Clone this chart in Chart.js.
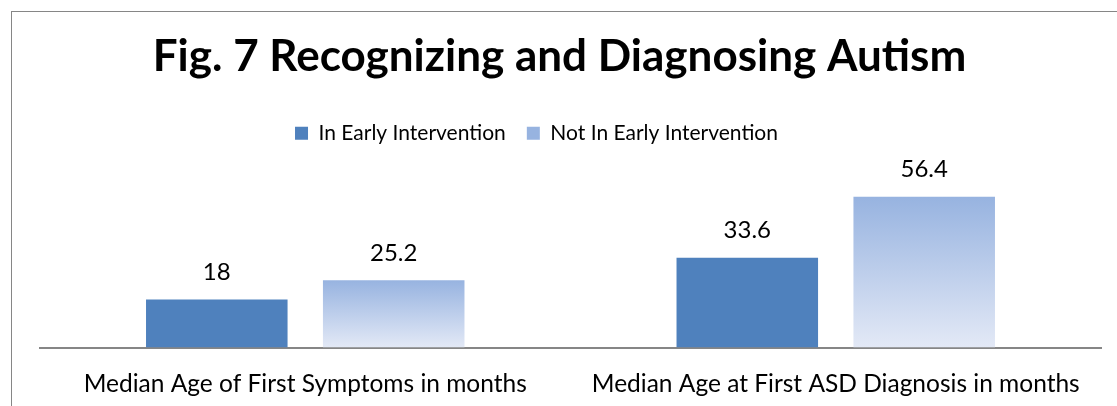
<!DOCTYPE html>
<html>
<head>
<meta charset="utf-8">
<script src="https://cdn.jsdelivr.net/npm/chart.js@4"></script>
<style>
  html, body { margin: 0; padding: 0; background: #fff; overflow: hidden; }
  #wrap { position: relative; width: 1117px; height: 406px; }
  #frame { position: absolute; left: 11px; top: 11px; right: 0; bottom: 0; border-left: 1px solid #868686; border-top: 1px solid #868686; }
  #grafico { position: absolute; left: 0; top: 0; display: block; }
</style>
</head>
<body>
<div id="wrap">
  <div id="frame"></div>
  <canvas id="grafico" width="1117" height="406"></canvas>
</div>
<script>
const categorie = ['Median Age of First Symptoms in months', 'Median Age at First ASD Diagnosis in months'];
const nomiSerie = ['In Early Intervention', 'Not In Early Intervention'];
const inEarly = [18, 33.6];
const notInEarly = [25.2, 56.4];

const fontName = 'Lato, "Open Sans", sans-serif';

// gradient for each light bar, from its top to the axis
function gradienteChiaro(context) {
  const chart = context.chart;
  if (context.type !== 'data' || !chart.chartArea) return '#BCCDEB';
  const y = chart.scales.y;
  const top = y.getPixelForValue(context.raw);
  const base = y.getPixelForValue(0);
  const g = chart.ctx.createLinearGradient(0, top, 0, base);
  g.addColorStop(0, '#97B3E0');
  g.addColorStop(1, '#E3E9F6');
  return g;
}

// values written above the bars
const etichette = {
  id: 'etichette',
  afterDatasetsDraw(chart) {
    const ctx = chart.ctx;
    ctx.save();
    ctx.font = '24px ' + fontName;
    ctx.fillStyle = '#000';
    ctx.textAlign = 'center';
    ctx.textBaseline = 'middle';
    chart.data.datasets.forEach((ds, i) => {
      chart.getDatasetMeta(i).data.forEach((bar, j) => {
        ctx.fillText(String(ds.data[j]), bar.x, bar.y - 27);
      });
    });
    ctx.restore();
  }
};

// title and legend sit a little left of the plot centre in the original
const spostaTesta = {
  id: 'spostaTesta',
  afterLayout(chart) {
    chart.titleBlock.left -= 11;
    chart.titleBlock.right -= 11;
    chart.legend.left -= 34;
    chart.legend.right -= 34;
  }
};

const ctx = document.getElementById('grafico').getContext('2d');
const grafico = new Chart(ctx, {
  type: 'bar',
  data: {
    labels: categorie,
    datasets: [{
      label: nomiSerie[0],
      data: inEarly,
      backgroundColor: '#4F81BD'
    }, {
      label: nomiSerie[1],
      data: notInEarly,
      backgroundColor: gradienteChiaro
    }]
  },
  options: {
    responsive: false,
    animation: false,
    categoryPercentage: 0.667,
    barPercentage: 0.80,
    layout: {
      padding: { left: 40, right: 16, top: 0, bottom: -15 }
    },
    plugins: {
      title: {
        display: true,
        text: 'Fig. 7 Recognizing and Diagnosing Autism',
        color: '#000',
        font: { family: fontName, size: 44, weight: 'bold' },
        padding: { top: 30, bottom: 19 }
      },
      legend: {
        display: true,
        labels: {
          color: '#000',
          font: { family: fontName, size: 21 },
          boxWidth: 13,
          boxHeight: 13,
          padding: 21
        }
      },
      tooltip: { enabled: false }
    },
    scales: {
      x: {
        grid: { display: false, drawTicks: false },
        border: { display: true, color: '#868686', width: 2 },
        ticks: {
          color: '#000',
          font: { family: fontName, size: 24.5 },
          padding: 22,
          maxRotation: 0
        }
      },
      y: {
        display: false,
        min: 0,
        max: 72.4
      }
    }
  },
  plugins: [etichette, spostaTesta]
});
</script>
</body>
</html>
